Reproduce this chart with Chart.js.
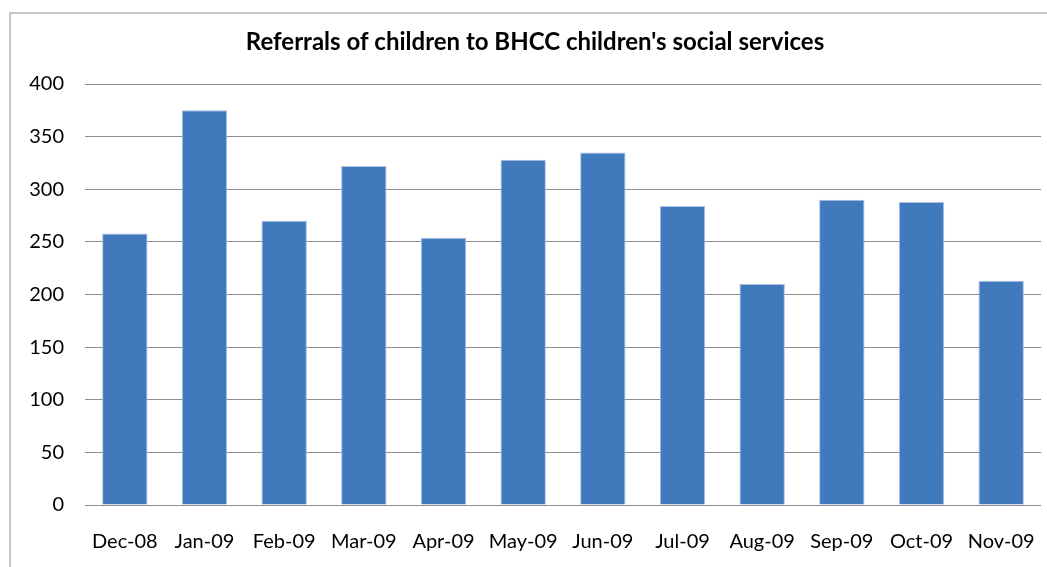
<!DOCTYPE html>
<html>
<head>
<meta charset="utf-8">
<script src="https://cdn.jsdelivr.net/npm/chart.js@4/dist/chart.umd.min.js"></script>
<style>
  html, body { margin: 0; padding: 0; background: #fff; overflow: hidden; }
  #wrap { position: relative; width: 1070px; height: 567px; }
</style>
</head>
<body>
<div id="wrap"><canvas id="referrals"></canvas></div>
<script>
var months = ['Dec-08', 'Jan-09', 'Feb-09', 'Mar-09', 'Apr-09', 'May-09',
              'Jun-09', 'Jul-09', 'Aug-09', 'Sep-09', 'Oct-09', 'Nov-09'];
var referrals = [258, 375, 270, 322, 254, 328, 335, 284, 210, 290, 288, 213];
var yTicks = [0, 50, 100, 150, 200, 250, 300, 350, 400];

// grey frame round the chart, drawn before everything else
var frame = {
    id: 'frame',
    beforeDraw: function (chart) {
        var ctx = chart.ctx;
        ctx.save();
        ctx.strokeStyle = '#c6c6c6';
        ctx.lineWidth = 2;
        ctx.strokeRect(10, 13, 1050, 600);
        ctx.restore();
    }
};

function createChart(elementId) {
    var canvas = document.getElementById(elementId);
    canvas.width = 1070;
    canvas.height = 567;
    var ctx = canvas.getContext('2d');
    var myChart = new Chart(ctx, {
        type: 'bar',
        data: {
            labels: months,
            datasets: [{
                label: 'Referrals',
                data: referrals,
                backgroundColor: '#4179bd',
                borderColor: '#a9c0e2',
                borderWidth: 1,
                barPercentage: 0.57,
                categoryPercentage: 1
            }]
        },
        plugins: [frame],
        options: {
            responsive: false,
            animation: false,
            layout: { padding: 0 },
            plugins: {
                legend: { display: false },
                tooltip: { enabled: false },
                title: {
                    display: true,
                    text: "Referrals of children to BHCC children's social services",
                    color: '#000',
                    font: { family: 'Lato', size: 24, weight: 'bold', lineHeight: 1.2 },
                    padding: { top: 28, bottom: 27.2 }
                }
            },
            scales: {
                x: {
                    grid: { display: false, drawTicks: false },
                    border: { display: false },
                    ticks: {
                        color: '#000',
                        font: { family: 'Lato', size: 20 },
                        padding: 25,
                        maxRotation: 0
                    },
                    afterFit: function (scale) { scale.height = 62; }
                },
                y: {
                    min: 0,
                    max: 400,
                    afterBuildTicks: function (scale) {
                        scale.ticks = yTicks.map(function (v) { return { value: v }; });
                    },
                    grid: { color: '#8e8e8e', lineWidth: 1, drawTicks: false },
                    border: { display: false },
                    ticks: {
                        color: '#000',
                        font: { family: 'Lato', size: 20 },
                        padding: 21
                    },
                    afterFit: function (scale) { scale.width = 85; }
                },
                // empty strip on the right so the plot stops short of the frame
                yRight: {
                    position: 'right',
                    min: 0,
                    max: 400,
                    grid: { display: false, drawTicks: false },
                    border: { display: false },
                    ticks: { display: false },
                    afterFit: function (scale) { scale.width = 29; }
                }
            }
        }
    });

    return myChart;
}

createChart('referrals');
</script>
</body>
</html>
